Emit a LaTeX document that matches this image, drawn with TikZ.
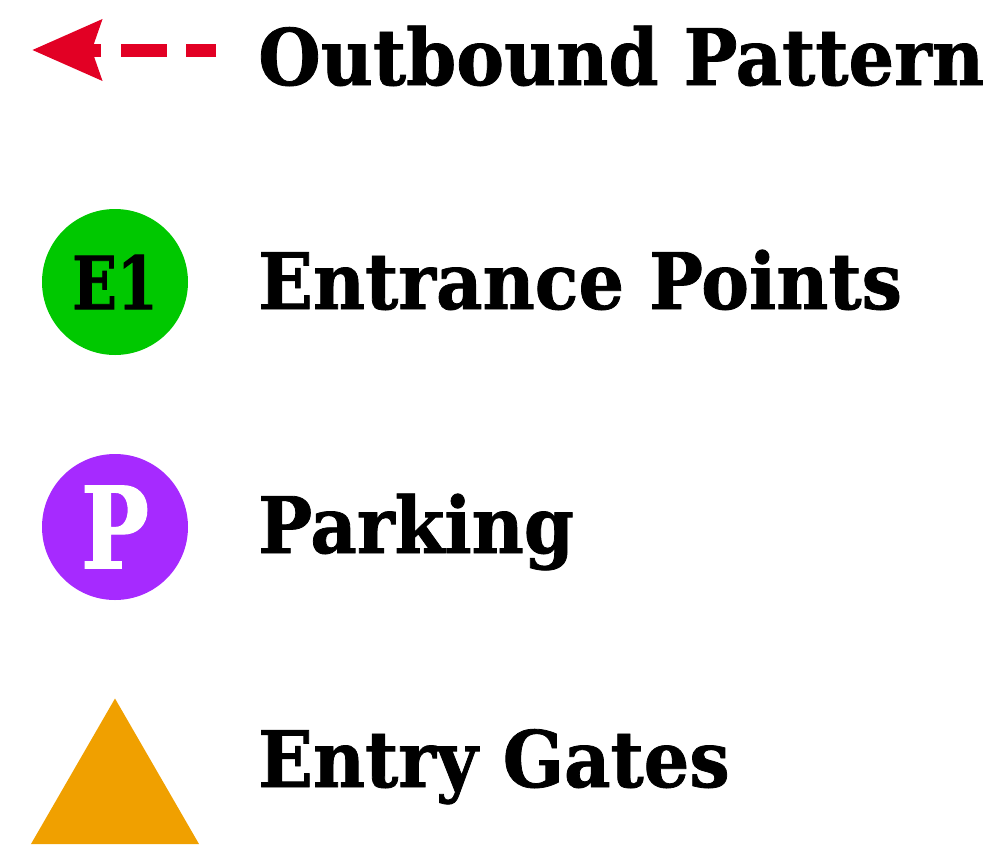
\documentclass[tikz,border=0pt]{standalone}
\usepackage{fontspec}
\newfontfamily\legendfont{DejaVu Serif}[FakeStretch=0.92,FakeBold=1]
\newfontfamily\markerfont{DejaVu Serif}[FakeStretch=0.8,FakeBold=1]
\usetikzlibrary{arrows.meta,shapes.geometric}
\definecolor{outboundred}{RGB}{226,0,36}
\definecolor{entrancegreen}{RGB}{0,200,0}
\definecolor{parkingpurple}{RGB}{166,42,255}
\definecolor{gateorange}{RGB}{240,160,0}

\begin{document}
\begin{tikzpicture}[x=0.75pt,y=-0.75pt,
  legendtext/.style={anchor=base west,inner sep=0pt,font=\legendfont\bfseries\fontsize{58.5}{60}\selectfont},
  marker/.style={circle,minimum size=109.5pt,inner sep=0pt,outer sep=0pt},
  outbound/.style={outboundred,line width=9.75pt,dash pattern=on 34.5pt off 14.6pt,dash phase=12pt,
    -{Stealth[length=51.75pt,width=44.25pt,inset=7pt]}}]
  \useasboundingbox (0,0) rectangle (1000,850);
  % outbound pattern
  \coordinate (outtail) at (216,50);
  \coordinate (outtip) at (32,50);
  \draw[outbound] (outtail) -- (outtip);
  \node[legendtext] (outlabel) at (258,85) {Outbound Pattern};
  % entrance points
  \node[marker,fill=entrancegreen,font=\markerfont\bfseries\fontsize{55}{55}\selectfont] (entrance) at (115,282) {E1};
  \node[legendtext] (entlabel) at (258,309) {Entrance Points};
  % parking
  \node[marker,fill=parkingpurple,text=white,font=\markerfont\bfseries\fontsize{85}{85}\selectfont] (parking) at (115,527) {P};
  \node[legendtext] (parklabel) at (258,553) {Parking};
  % entry gates
  \node[regular polygon,regular polygon sides=3,minimum size=145.5pt,inner sep=0pt,outer sep=0pt,fill=gateorange] (gates) at (115,795.5) {};
  \node[legendtext] (gatelabel) at (258,787) {Entry Gates};
  %\node at (500,425) {};
\end{tikzpicture}
\end{document}
